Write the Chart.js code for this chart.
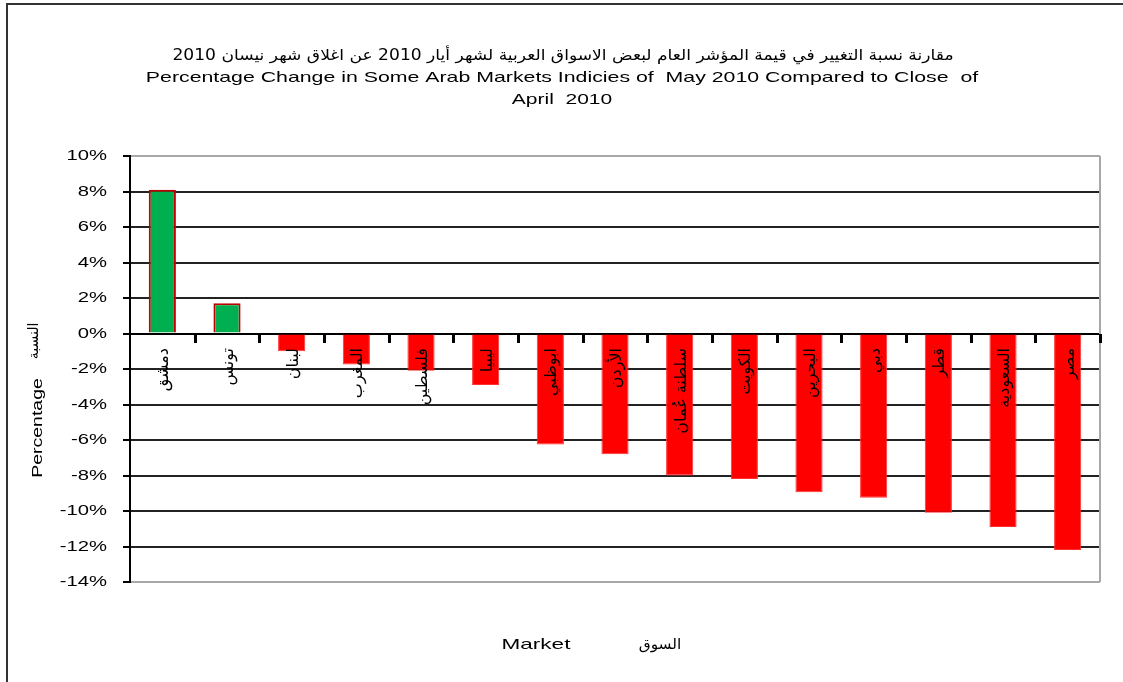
<!DOCTYPE html>
<html lang="en">
<head>
  <meta charset="UTF-8">
  <title>Arab Markets May 2010</title>
  <style>
    body { margin: 0; background: #fff; }
    canvas { display: block; }
  </style>
  <script src="https://cdn.jsdelivr.net/npm/chart.js"></script>
</head>
<body>
  <canvas id="marketChart" width="1123" height="682"></canvas>
  <script>
    // markets, left to right as in the original sheet
    const markets = ['دمشق', 'تونس', 'لبنان', 'المغرب', 'فلسطين', 'ليبيا', 'ابوظبي', 'الأردن',
      'سلطنة عُمان', 'الكويت', 'البحرين', 'دبي', 'قطر', 'السعودية', 'مصر'];
    // percentage change May 2010 vs close of April 2010
    const changes = [8.1, 1.7, -1.0, -1.75, -2.1, -2.9, -6.25, -6.8, -8.0, -8.2, -8.95, -9.25, -10.1, -10.9, -12.2];
    const yMin = -14, yMax = 10, yStep = 2;

    const titleLines = [
      'مقارنة نسبة التغيير في قيمة المؤشر العام لبعض الاسواق العربية لشهر أيار 2010 عن اغلاق شهر نيسان 2010',
      'Percentage Change in Some Arab Markets Indicies of  May 2010 Compared to Close  of',
      'April  2010'
    ];
    const yTitle = 'Percentage';
    const yTitleAr = 'النسبة';
    const xTitle = 'Market';
    const xTitleAr = 'السوق';

    const LATIN = '"Liberation Sans", Arial, sans-serif';
    const ARABIC = '"DejaVu Sans", "Noto Sans", sans-serif';

    function wideText(ctx, text, x, y, align, sx, rot) {
      ctx.save();
      ctx.translate(x, y);
      if (rot) ctx.rotate(rot);
      ctx.scale(sx, 1);
      ctx.textAlign = align;
      ctx.fillText(text, 0, 0);
      ctx.restore();
    }

    const overlay = {
      id: 'overlay',
      afterDraw(chart) {
        const ctx = chart.ctx;
        const area = chart.chartArea;
        const x = chart.scales.x, y = chart.scales.y;
        const y0 = Math.round(y.getPixelForValue(0));
        ctx.save();

        // plot border on right
        ctx.lineWidth = 2;
        ctx.strokeStyle = '#a8a8a8';
        ctx.beginPath();
        ctx.moveTo(area.right, area.top);
        ctx.lineTo(area.right, area.bottom);
        ctx.stroke();

        // tick marks under the zero line, between categories
        const step = x.getPixelForValue(1) - x.getPixelForValue(0);
        ctx.fillStyle = '#000';
        for (let i = 0; i < markets.length; i++) {
          const px = Math.round(x.getPixelForValue(i) + step / 2);
          ctx.fillRect(px - 1, y0, 3, 9);
        }

        // outer frame (left + top visible)
        ctx.strokeStyle = '#333';
        ctx.beginPath();
        ctx.moveTo(7, 682);
        ctx.lineTo(7, 4);
        ctx.lineTo(1123, 4);
        ctx.stroke();

        ctx.textBaseline = 'middle';

        // y tick labels
        ctx.font = '15px ' + LATIN;
        y.ticks.forEach(t => {
          wideText(ctx, t.value + '%', 107, y.getPixelForValue(t.value), 'right', 1.35);
        });

        // titles
        ctx.font = '15px ' + ARABIC;
        ctx.direction = 'rtl';
        wideText(ctx, titleLines[0], 563, 56, 'center', 1.14);
        ctx.direction = 'ltr';
        ctx.font = '15px ' + LATIN;
        wideText(ctx, titleLines[1], 562, 78, 'center', 1.42);
        wideText(ctx, titleLines[2], 562, 100, 'center', 1.4);

        // axis titles
        wideText(ctx, xTitle, 536, 645, 'center', 1.5);
        wideText(ctx, yTitle, 38, 428, 'center', 1.3, -Math.PI / 2);
        ctx.font = '14px ' + ARABIC;
        ctx.direction = 'rtl';
        wideText(ctx, xTitleAr, 660, 645, 'center', 1.1);
        wideText(ctx, yTitleAr, 34, 341, 'center', 1.0, -Math.PI / 2);

        // market names, rotated, just under the zero line
        ctx.font = '16px ' + ARABIC;
        markets.forEach((m, i) => {
          ctx.save();
          ctx.translate(x.getPixelForValue(i) + 2, y0 + 14);
          ctx.rotate(-Math.PI / 2);
          ctx.textAlign = 'right';
          ctx.fillText(m, 0, 0);
          ctx.restore();
        });
        ctx.restore();
      }
    };

    new Chart(document.getElementById('marketChart'), {
      type: 'bar',
      data: {
        labels: markets,
        datasets: [{
          data: changes,
          backgroundColor: changes.map(v => v >= 0 ? '#00b050' : '#ff0000'),
          borderColor: changes.map(v => v >= 0 ? '#c00000' : '#ff3030'),
          borderWidth: changes.map(v => v >= 0 ? 2 : 1),
          categoryPercentage: 1,
          barPercentage: 0.42
        }]
      },
      options: {
        responsive: false,
        devicePixelRatio: 1,
        animation: false,
        layout: { padding: { left: 0, top: 156, right: 23, bottom: 100 } },
        plugins: {
          legend: { display: false },
          tooltip: { enabled: false }
        },
        scales: {
          x: {
            position: { y: 0 },
            afterFit: s => { s.height = 0; },
            ticks: { display: false },
            grid: { display: false },
            border: { display: true, color: '#000', width: 2 }
          },
          y: {
            min: yMin,
            max: yMax,
            afterFit: s => { s.width = 130; },
            ticks: { display: false, stepSize: yStep },
            grid: {
              color: c => (c.tick && (c.tick.value === yMax || c.tick.value === yMin)) ? '#a8a8a8' : '#222',
              lineWidth: 2,
              drawTicks: true,
              tickLength: 7,
              tickColor: '#000',
              tickWidth: 2
            },
            border: { display: true, color: '#000', width: 2 }
          }
        }
      },
      plugins: [overlay]
    });
  </script>
</body>
</html>
